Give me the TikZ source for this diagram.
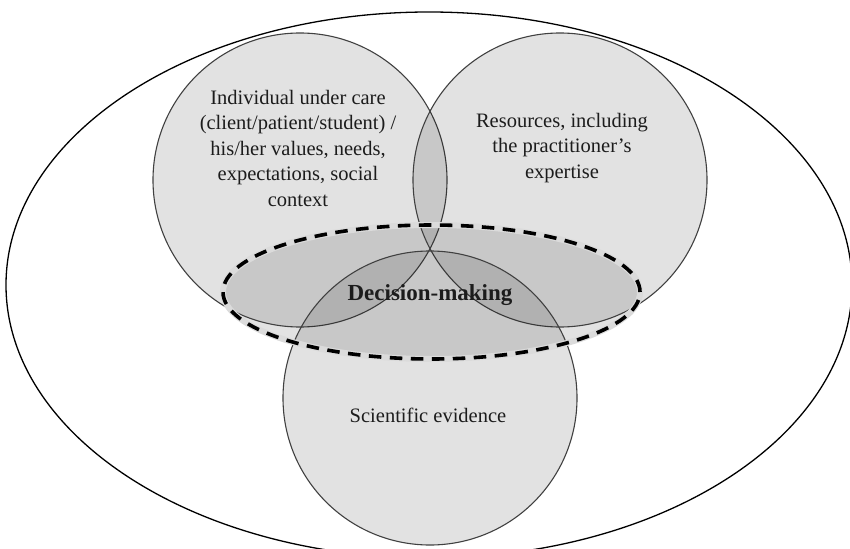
\documentclass[tikz,border=0pt]{standalone}
\usepackage{fontspec}
\setmainfont{Liberation Serif}
\usetikzlibrary{shapes.geometric}
\definecolor{txt}{HTML}{1C1C1C}
\definecolor{rim}{HTML}{404040}
\tikzset{
  venn/.style={circle, inner sep=0pt, minimum size=294pt, fill=black, fill opacity=0.114, draw=rim, line width=1.1pt},
  world/.style={ellipse, inner sep=0pt, minimum width=846pt, minimum height=546pt, draw=black, line width=1.3pt},
  dmfill/.style={ellipse, inner sep=0pt, minimum width=417pt, minimum height=134pt, fill=black, fill opacity=0.114},
  dmhalo/.style={ellipse, inner sep=0pt, minimum width=417pt, minimum height=134pt, draw=black!14, line width=6pt},
  dmdash/.style={ellipse, inner sep=0pt, minimum width=417pt, minimum height=134pt, draw=black, line width=3.6pt, dash pattern=on 12.5pt off 8.5pt},
  lbl/.style={text=txt, align=center, font=\fontsize{20.5}{25.5}\selectfont, inner sep=0pt},
  bold/.style={text=txt, font=\fontsize{23}{27}\selectfont\bfseries, inner sep=0pt}
}
\begin{document}
\begin{tikzpicture}[x=1pt, y=-1pt]
\useasboundingbox (0,0) rectangle (850,548);
\fill[white] (0,0) rectangle (850,548);
\node[world] (outer) at (429,285) {};
\node[dmfill] (dmf) at (431.5,292) {};
\node[venn] (indiv) at (300,180) {};
\node[venn] (res) at (560,180) {};
\node[venn] (sci) at (430,398) {};
\node[dmhalo] (dmh) at (431.5,292) {};
\node[dmdash] (dm) at (431.5,292) {};
\node[lbl] (t1) at (298,148) {Individual under care\\(client/patient/student) /\\his/her values, needs,\\expectations, social\\context};
\node[lbl] (t2) at (562,148) {Resources, including\\the practitioner’s\\expertise};
\node[lbl] (t3) at (428,415) {Scientific evidence};
\node[bold] (t4) at (430,295) {Decision-making};
\end{tikzpicture}
\end{document}
